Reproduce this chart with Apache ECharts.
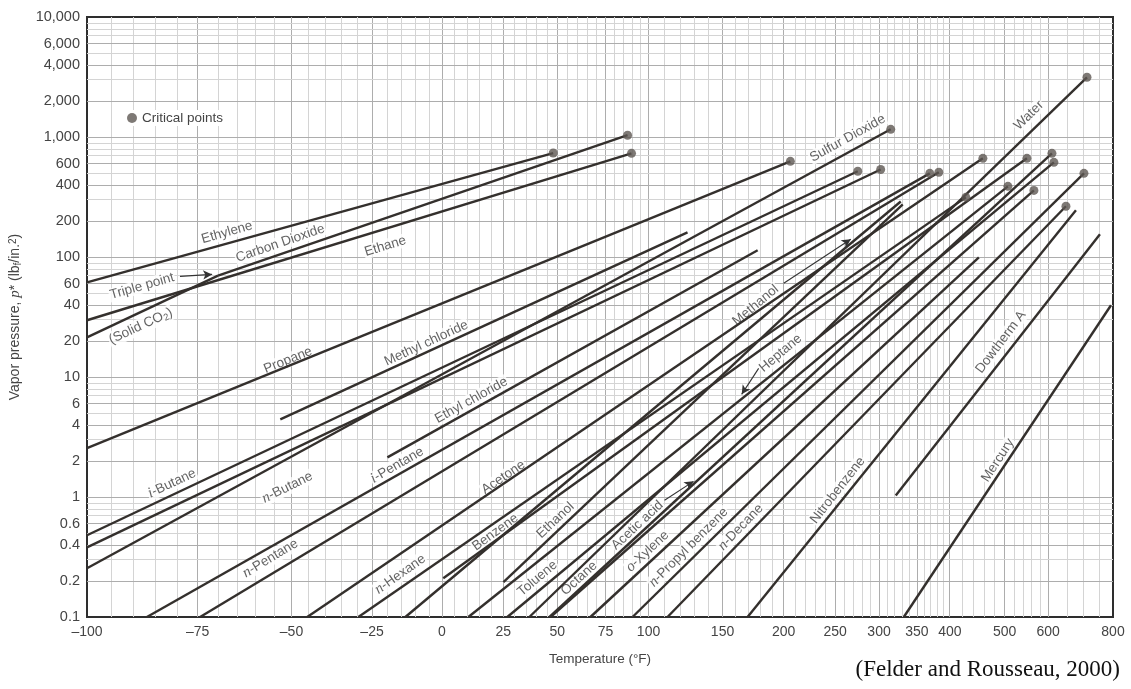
<!DOCTYPE html>
<html><head><meta charset="utf-8">
<script src="https://cdn.jsdelivr.net/npm/echarts@6/dist/echarts.min.js"></script>
<style>html,body{margin:0;padding:0;background:#fff}#c{width:1131px;height:689px}</style>
</head><body><div id="c"></div>
<script>
// ---------- tick labels ----------
const tempTicks = [-100,-75,-50,-25,0,25,50,75,100,150,200,250,300,350,400,500,600,800];
const pressureTicks = [0.1,0.2,0.4,0.6,1,2,4,6,10,20,40,60,100,200,400,600,1000,2000,4000,6000,10000];

// ---------- substance lines: [T (°F), p* (psia)] start -> end ----------
const ethylene       = [[-100, 61.5], [48, 735]];
const carbonDioxide  = [[-69.9, 70], [87.5, 1035]];
const solidCO2       = [[-100, 21.4], [-69.9, 70]];
const ethane         = [[-100, 29.7], [89.8, 731]];
const propane        = [[-100, 2.55], [206, 627]];
const iButane        = [[-100, 0.48], [274.8, 518]];
const nButane        = [[-100, 0.38], [302, 536]];
const sulfurDioxide  = [[-100, 0.255], [314.7, 1159]];
const methylChloride = [[-53.2, 4.44], [125.1, 160.6]];
const ethylChloride  = [[-19.8, 2.14], [177.6, 113.7]];
const iPentane       = [[-87, 0.1], [368.8, 498]];
const nPentane       = [[-74.4, 0.1], [382.5, 508]];
const acetone        = [[-45.4, 0.1], [457.4, 664]];
const nHexane        = [[-29.5, 0.1], [426.8, 314]];
const methanol       = [[-13.5, 0.1], [327.8, 290]];
const benzene        = [[0.5, 0.21], [548.6, 664]];
const heptane        = [[10.4, 0.1], [506.9, 388]];
const ethanol        = [[25.1, 0.195], [330.5, 275]];
const toluene        = [[26.8, 0.1], [615, 615]];
const water          = [[36.7, 0.1], [710.7, 3145]];
const octane         = [[46.7, 0.1], [565, 359]];
const aceticAcid     = [[46.2, 0.1], [609.9, 731]];
const oXylene        = [[66.9, 0.1], [450, 99.4]];
const nPropylBenzene = [[90.4, 0.1], [701.2, 498]];
const nDecane        = [[111.9, 0.1], [647.9, 264.6]];
const nitrobenzene   = [[169.4, 0.1], [676.8, 244.9]];
const dowthermA      = [[321.2, 1.03], [753.5, 154.6]];
const mercury        = [[331.9, 0.1], [792.6, 39.6]];

// name, points, ends at a critical point
const substances = [
  ['Ethylene', ethylene, true], ['Carbon Dioxide', carbonDioxide, true], ['Solid CO2', solidCO2, false],
  ['Ethane', ethane, true], ['Propane', propane, true], ['i-Butane', iButane, true],
  ['n-Butane', nButane, true], ['Sulfur Dioxide', sulfurDioxide, true], ['Methyl chloride', methylChloride, false],
  ['Ethyl chloride', ethylChloride, false], ['i-Pentane', iPentane, true], ['n-Pentane', nPentane, true],
  ['Acetone', acetone, true], ['n-Hexane', nHexane, true], ['Methanol', methanol, false],
  ['Benzene', benzene, true], ['Heptane', heptane, true], ['Ethanol', ethanol, false],
  ['Toluene', toluene, true], ['Water', water, true], ['Octane', octane, true],
  ['Acetic acid', aceticAcid, true], ['o-Xylene', oXylene, false], ['n-Propyl benzene', nPropylBenzene, true],
  ['n-Decane', nDecane, true], ['Nitrobenzene', nitrobenzene, false], ['Dowtherm A', dowthermA, false],
  ['Mercury', mercury, false]
];

// ---------- annotations: text, T, p, angle ----------
const lineLabels = [
  ['Ethylene', -67.6, 160, 16], ['Carbon Dioxide', -53.2, 130, 19], ['Ethane', -20.5, 123, 17],
  ['Triple point', -88.1, 57, 16], ['(Solid CO{sub|2})', -88.4, 26.5, 25], ['Propane', -51, 13.8, 22],
  ['Methyl chloride', -5.9, 19.1, 25], ['Ethyl chloride', 11.6, 6.4, 29], ['Sulfur Dioxide', 263.5, 975, 29],
  ['Water', 553, 1514, 44], ['{it|i}-Butane', -81.2, 1.30, 25], ['{it|n}-Butane', -51.2, 1.20, 26],
  ['{it|n}-Pentane', -56, 0.308, 31], ['{it|i}-Pentane', -16.4, 1.84, 30], ['Acetone', 25.1, 1.46, 34],
  ['{it|n}-Hexane', -15.3, 0.227, 35], ['Benzene', 21.6, 0.508, 36], ['Ethanol', 49.1, 0.639, 43],
  ['Toluene', 40.5, 0.21, 40], ['Octane', 61, 0.21, 42], ['Acetic acid', 93.3, 0.581, 43],
  ['{it|o}-Xylene', 99.4, 0.353, 43], ['{it|n}-Propyl benzene', 125.8, 0.381, 45], ['{it|n}-Decane', 163.9, 0.559, 46],
  ['Nitrobenzene', 252.7, 1.137, 52], ['Dowtherm A', 492.4, 19.5, 53], ['Mercury', 486.4, 2.02, 57],
  ['Methanol', 175.9, 39.6, 40], ['Heptane', 197.3, 15.8, 40]
];
const arrows = [
  [[-79.3, 69.0], [-71.4, 71.6]],
  [[200, 60.4], [266.9, 140.4]],
  [[178.4, 11.8], [164.7, 7.17]],
  [[110, 0.939], [129.2, 1.35]]
];

// ---------- axis transforms (Cox chart) ----------
const C = 378.5;
const tx = T => -10000 / (T + C);
const ty = p => Math.log10(p);
const fmtT = v => { const T = Math.round(-10000 / v - C); return T < 0 ? '\u2013' + (-T) : String(T); };
const fmtP = v => { const p = Math.pow(10, v); if (p >= 1) return Math.round(p).toLocaleString('en-US'); return String(Math.round(p * 10) / 10); };

// grid lines
const vGrid = [];
for (let t = -95; t < 100; t += 5) vGrid.push(t);
for (let t = 100; t < 400; t += 10) vGrid.push(t);
for (let t = 400; t < 600; t += 20) vGrid.push(t);
for (let t = 600; t < 800; t += 50) vGrid.push(t);
const hGrid = [];
for (let e = -1; e <= 3; e++) for (let k = 1; k <= 9; k++) { const v = k * Math.pow(10, e); if (v > 0.1 + 1e-9) hGrid.push(v); }

const LINE = '#34302d';
const FONT = 'Liberation Sans, Arial, sans-serif';
const TXT = '#3c3c3c';
const series = [];
// grid series
series.push({
  type: 'line', data: [], silent: true, z: 1,
  markLine: {
    silent: true, symbol: 'none', animation: false, label: { show: false }, z: 1,
    lineStyle: { color: '#cfcfcf', width: 1, type: 'solid' },
    data: vGrid.map(t => ({ xAxis: tx(t), lineStyle: { color: tempTicks.includes(t) ? '#adadad' : '#d4d4d4' } }))
      .concat(hGrid.map(p => ({ yAxis: ty(p), lineStyle: { color: pressureTicks.includes(Math.round(p*10)/10) ? '#adadad' : '#d4d4d4' } })))
  }
});
substances.forEach(([name, pts]) => {
  series.push({
    type: 'line', name: name, silent: true, z: 10, showSymbol: false, animation: false,
    data: pts.map(([T, p]) => [tx(T), ty(p)]),
    lineStyle: { color: LINE, width: 2.4 }
  });
});
series.push({
  type: 'scatter', name: 'Critical points', z: 12, silent: true, animation: false,
  symbolSize: 9, itemStyle: { color: '#5e5853', borderWidth: 0 },
  data: substances.filter(s => s[2]).map(s => { const e = s[1][s[1].length - 1]; return [tx(e[0]), ty(e[1])]; })
});
series.push({
  type: 'scatter', name: 'labels', z: 9, silent: true, animation: false, symbolSize: 0,
  data: lineLabels.map(([txt, T, p, ang]) => ({
    value: [tx(T), ty(p)],
    label: { show: true, formatter: txt, rotate: ang, position: 'inside' }
  })),
  label: {
    color: TXT, fontSize: 13.5, fontFamily: FONT,
    backgroundColor: '#fff', padding: [0, 1],
    rich: {
      it: { fontStyle: 'italic', fontFamily: 'Liberation Serif, serif', fontSize: 15, color: TXT },
      sub: { fontSize: 9.5, verticalAlign: 'bottom', padding: [6, 0, 0, 0], color: TXT }
    }
  }
});
series.push({
  type: 'line', data: [], silent: true, z: 14,
  markLine: {
    silent: true, animation: false, symbol: ['none', 'arrow'], symbolSize: [7, 9], label: { show: false }, z: 14,
    lineStyle: { color: '#333', width: 1.1, type: 'solid', curveness: 0.15 },
    data: arrows.map(([a, b]) => [{ coord: [tx(a[0]), ty(a[1])] }, { coord: [tx(b[0]), ty(b[1])] }])
  }
});

const chart = echarts.init(document.getElementById('c'), null, { renderer: 'canvas' });
chart.setOption({
  backgroundColor: '#fff',
  animation: false,
  grid: { left: 87, right: 18, top: 17, bottom: 72, show: true, borderColor: '#2e2e2e', borderWidth: 2, backgroundColor: '#fff' },
  legend: {
    data: [{ name: 'Critical points', icon: 'circle', itemStyle: { color: '#5e5853', borderWidth: 0 } }],
    left: 124, top: 110, padding: [1, 3],
    itemWidth: 10, itemHeight: 10, itemGap: 5, backgroundColor: '#fff',
    textStyle: { fontSize: 13.5, color: '#444', fontFamily: FONT }
  },
  xAxis: {
    type: 'value', min: tx(-100), max: tx(800),
    name: 'Temperature (°F)', nameLocation: 'middle', nameGap: 35,
    nameTextStyle: { fontSize: 13.5, color: '#444', fontFamily: FONT },
    axisLine: { show: false }, axisTick: { show: false }, splitLine: { show: false },
    axisLabel: { customValues: tempTicks.map(tx), formatter: fmtT, fontSize: 14, color: '#444', margin: 8,
      fontFamily: FONT, hideOverlap: false }
  },
  yAxis: {
    type: 'value', min: -1, max: 4,
    name: '{n|Vapor pressure, }{i|p}{n|* (lb}{s|f}{n|/in.}{u|2}{n|)}', nameLocation: 'middle', nameGap: 64, nameRotate: 90,
    nameTextStyle: { rich: {
      n: { fontSize: 14, color: '#444', fontFamily: FONT },
      i: { fontSize: 15, color: '#444', fontStyle: 'italic', fontFamily: 'Liberation Serif, serif' },
      s: { fontSize: 10, color: '#444', verticalAlign: 'bottom', padding: [5, 0, 0, 0], fontFamily: FONT },
      u: { fontSize: 10, color: '#444', verticalAlign: 'top', padding: [0, 0, 5, 0], fontFamily: FONT }
    } },
    axisLine: { show: false }, axisTick: { show: false }, splitLine: { show: false },
    axisLabel: { customValues: pressureTicks.map(ty), formatter: fmtP, fontSize: 14.5, color: '#444', margin: 7,
      fontFamily: FONT, hideOverlap: false }
  },
  graphic: [{
    type: 'text', right: 11, top: 658,
    style: { text: '(Felder and Rousseau, 2000)', fontSize: 23, fontFamily: 'Liberation Serif, Times New Roman, serif', fill: '#111' }
  }],
  series: series
});
</script></body></html>
